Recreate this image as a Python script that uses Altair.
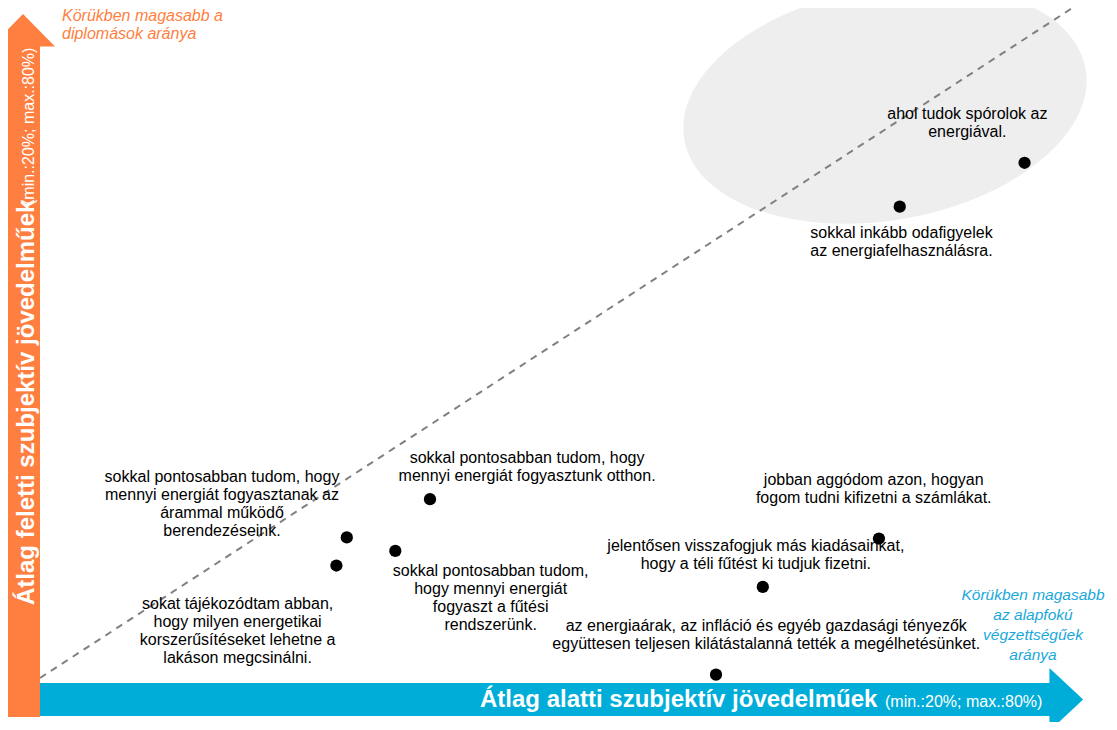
import altair as alt
import pandas as pd

# ---- data ----
statements = [
    "ahol tudok spórolok az\nenergiával.",
    "sokkal inkább odafigyelek\naz energiafelhasználásra.",
    "sokkal pontosabban tudom, hogy\nmennyi energiát fogyasztunk otthon.",
    "sokkal pontosabban tudom, hogy\nmennyi energiát fogyasztanak az\nárammal működő\nberendezéseink.",
    "sokkal pontosabban tudom,\nhogy mennyi energiát\nfogyaszt a fűtési\nrendszerünk.",
    "sokat tájékozódtam abban,\nhogy milyen energetikai\nkorszerűsítéseket lehetne a\nlakáson megcsinálni.",
    "jobban aggódom azon, hogyan\nfogom tudni kifizetni a számlákat.",
    "jelentősen visszafogjuk más kiadásainkat,\nhogy a téli fűtést ki tudjuk fizetni.",
    "az energiaárak, az infláció és egyéb gazdasági tényezők\negyüttesen teljesen kilátástalanná tették a megélhetésünket.",
]
below_avg = [76.8, 69.6, 42.5, 37.7, 40.5, 37.1, 68.4, 61.7, 59.0]   # x (%)
above_avg = [65.8, 61.9, 35.9, 32.5, 31.3, 30.0, 32.4, 28.1, 20.3]   # y (%)
label_x = [73.5, 69.7, 48.1, 30.5, 46.0, 31.4, 68.1, 61.3, 61.9]
label_y = [70.1, 59.6, 39.6, 37.9, 29.5, 26.6, 37.6, 31.7, 24.6]

diag_start = [20, 20]
diag_end = [80, 80]
highlight_center = [68.75, 71.0]

y_title = "Átlag feletti szubjektív jövedelműek"
x_title = "Átlag alatti szubjektív jövedelműek"
range_note = "(min.:20%; max.:80%)"
orange_note = "Körükben magasabb a\ndiplomások aránya"
blue_note = "Körükben magasabb\naz alapfokú\nvégzettségűek\naránya"

# ---- styling ----
ORANGE = "#FF7F41"
BLUE = "#00ADD8"
BLUE_TXT = "#1AA8DA"
FONT = "Liberation Sans"
W, H = 1101, 714

df = pd.DataFrame({"stmt": statements, "x": below_avg, "y": above_avg,
                   "lx": label_x, "ly": label_y})
diag = pd.DataFrame({"x": [diag_start[0]], "y": [diag_start[1]],
                     "x2": [diag_end[0]], "y2": [diag_end[1]]})
one = pd.DataFrame({"k": [0]})

xs = alt.Scale(domain=[18.154, 81.673], nice=False, zero=False)
ys = alt.Scale(domain=[16.089, 79.556], nice=False, zero=False)

ELLIPSE = ("M -1 0 C -1 -0.3144 -0.5523 -0.5693 0 -0.5693 "
           "C 0.5523 -0.5693 1 -0.3144 1 0 "
           "C 1 0.3144 0.5523 0.5693 0 0.5693 "
           "C -0.5523 0.5693 -1 0.3144 -1 0 Z")

ellipse = alt.Chart(one).mark_point(
    shape=ELLIPSE, filled=True, fill="#EEEEEE", opacity=1, strokeWidth=0,
    size=166000, angle=350
).encode(x=alt.datum(highlight_center[0], scale=xs, axis=None),
         y=alt.datum(highlight_center[1], scale=ys, axis=None))

diagonal = alt.Chart(diag).mark_rule(
    color="#808080", strokeWidth=2, strokeDash=[7, 6]
).encode(x=alt.X("x:Q", scale=xs, axis=None), y=alt.Y("y:Q", scale=ys, axis=None),
         x2="x2:Q", y2="y2:Q")

points = alt.Chart(df).mark_circle(size=150, color="black", opacity=1).encode(
    x=alt.X("x:Q", scale=xs, axis=None), y=alt.Y("y:Q", scale=ys, axis=None))

labels = alt.Chart(df).mark_text(
    font=FONT, fontSize=16, lineHeight=18, lineBreak="\n", align="center",
    baseline="middle", color="black"
).encode(x=alt.X("lx:Q", scale=xs, axis=None), y=alt.Y("ly:Q", scale=ys, axis=None),
         text="stmt:N")

# arrows (decoration, pixel positions)
orange_bar = alt.Chart(one).mark_rect(color=ORANGE).encode(
    x=alt.value(0), x2=alt.value(32), y=alt.value(37), y2=alt.value(709))
orange_head = alt.Chart(one).mark_point(
    shape="M -1 0.05 L 0 -0.97 L 1 0.05 Z", filled=True, fill=ORANGE,
    opacity=1, strokeWidth=0, size=4096
).encode(x=alt.value(15), y=alt.value(37))
blue_bar = alt.Chart(one).mark_rect(color=BLUE).encode(
    x=alt.value(32), x2=alt.value(1043), y=alt.value(675), y2=alt.value(708))
blue_head = alt.Chart(one).mark_point(
    shape="M -0.05 -1 L 1.02 0 L -0.05 1 Z", filled=True, fill=BLUE,
    opacity=1, strokeWidth=0, size=3969
).encode(x=alt.value(1043), y=alt.value(691.5))

y_bold = alt.Chart(one).mark_text(
    text=y_title, font=FONT, fontSize=24, fontWeight="bold", color="white",
    angle=270, align="left", baseline="alphabetic"
).encode(x=alt.value(26), y=alt.value(597))
y_small = alt.Chart(one).mark_text(
    text=range_note, font=FONT, fontSize=16, color="white",
    angle=270, align="left", baseline="alphabetic"
).encode(x=alt.value(26), y=alt.value(197))
x_bold = alt.Chart(one).mark_text(
    text=x_title, font=FONT, fontSize=24, fontWeight="bold", color="white",
    align="left", baseline="alphabetic"
).encode(x=alt.value(472), y=alt.value(699))
x_small = alt.Chart(one).mark_text(
    text=range_note, font=FONT, fontSize=16, color="white",
    align="left", baseline="alphabetic"
).encode(x=alt.value(877), y=alt.value(699))

o_note = alt.Chart(one).mark_text(
    text=orange_note, font=FONT, fontSize=16, fontStyle="italic", color=ORANGE,
    lineHeight=18, lineBreak="\n", align="left", baseline="middle"
).encode(x=alt.value(54), y=alt.value(8))
b_note = alt.Chart(one).mark_text(
    text=blue_note, font=FONT, fontSize=15.5, fontStyle="italic", color=BLUE_TXT,
    lineHeight=20, lineBreak="\n", align="center", baseline="middle"
).encode(x=alt.value(1025), y=alt.value(587))

chart = alt.layer(
    ellipse, diagonal, points, labels,
    orange_bar, orange_head, blue_bar, blue_head,
    y_bold, y_small, x_bold, x_small, o_note, b_note
).properties(
    width=W, height=H, padding=0, autosize="none", background="white"
).configure_view(stroke=None)

chart.save("out.html", embed_options={"renderer": "svg", "actions": False})
